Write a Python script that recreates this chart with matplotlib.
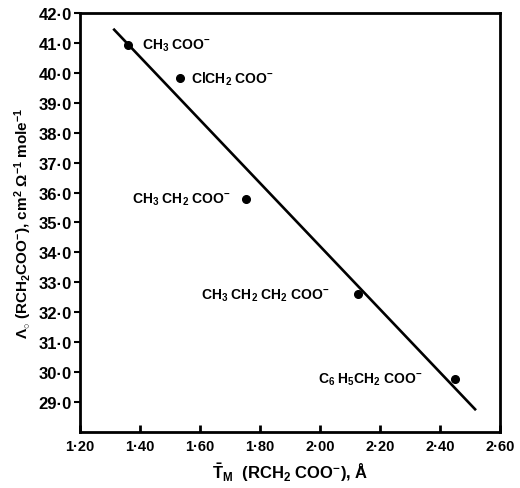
import matplotlib.pyplot as plt
from matplotlib.ticker import FixedLocator, FuncFormatter

plt.rcParams["font.family"] = ["Liberation Sans", "DejaVu Sans"]
plt.rcParams["font.weight"] = "bold"
plt.rcParams["mathtext.fontset"] = "custom"
plt.rcParams["mathtext.rm"] = "Liberation Sans:bold"
plt.rcParams["mathtext.bf"] = "Liberation Sans:bold"
plt.rcParams["mathtext.it"] = "Liberation Sans:bold"
plt.rcParams["mathtext.sf"] = "Liberation Sans:bold"

# data
ions = [
    r"CH$_3$ COO$^{-}$",
    r"ClCH$_2$ COO$^{-}$",
    r"CH$_3$ CH$_2$ COO$^{-}$",
    r"CH$_3$ CH$_2$ CH$_2$ COO$^{-}$",
    r"C$_6$ H$_5$CH$_2$ COO$^{-}$",
]
r_m = [1.359, 1.534, 1.752, 2.126, 2.450]
lambda0 = [40.93, 39.82, 35.80, 32.60, 29.78]

fit_x = [1.314, 2.517]
fit_y = [41.44, 28.76]

x_ticks = [1.20, 1.40, 1.60, 1.80, 2.00, 2.20, 2.40, 2.60]
y_ticks = [29, 30, 31, 32, 33, 34, 35, 36, 37, 38, 39, 40, 41, 42]

# label placement (offsets in points, alignment)
label_offsets = [(10, 0, "left"), (8, 0, "left"), (-11, 0, "right"),
                 (-20, 0, "right"), (-23, 0, "right")]

fig = plt.figure(figsize=(5.2, 4.89), dpi=100)
ax = fig.add_axes([0.1538, 0.1145, 0.8077, 0.857])

ax.plot(fit_x, fit_y, color="black", lw=1.9)
ax.plot(r_m, lambda0, "o", color="black", ms=5.5)

for name, x, y, (dx, dy, ha) in zip(ions, r_m, lambda0, label_offsets):
    ax.annotate(name, (x, y), xytext=(dx, dy), textcoords="offset points",
                ha=ha, va="center", fontsize=10, fontweight="bold")

ax.set_xlim(1.20, 2.60)
ax.set_ylim(28.0, 42.0)

ax.xaxis.set_major_locator(FixedLocator(x_ticks))
ax.yaxis.set_major_locator(FixedLocator(y_ticks))
ax.xaxis.set_major_formatter(FuncFormatter(lambda v, p: f"{v:.2f}".replace(".", "\u00b7")))
ax.yaxis.set_major_formatter(FuncFormatter(lambda v, p: f"{v:.1f}".replace(".", "\u00b7")))

ax.tick_params(axis="x", direction="in", length=5, width=2, labelsize=10.5, pad=5)
ax.tick_params(axis="y", direction="out", length=4, width=1.5, labelsize=12, pad=2)
for lab in ax.get_xticklabels() + ax.get_yticklabels():
    lab.set_fontweight("bold")

for sp in ax.spines.values():
    sp.set_linewidth(2)

ax.set_xlabel(r"$\bar{\mathrm{T}}_{\mathrm{M}}$  (RCH$_2$ COO$^{-}$), Å",
              fontsize=12, fontweight="bold", labelpad=5)
ax.set_ylabel(r"$\Lambda_{\circ}$ (RCH$_2$COO$^{-}$), cm$^2$ $\Omega^{-1}$ mole$^{-1}$",
              fontsize=11, fontweight="bold", labelpad=3)

fig.savefig("out.png", dpi=100)
